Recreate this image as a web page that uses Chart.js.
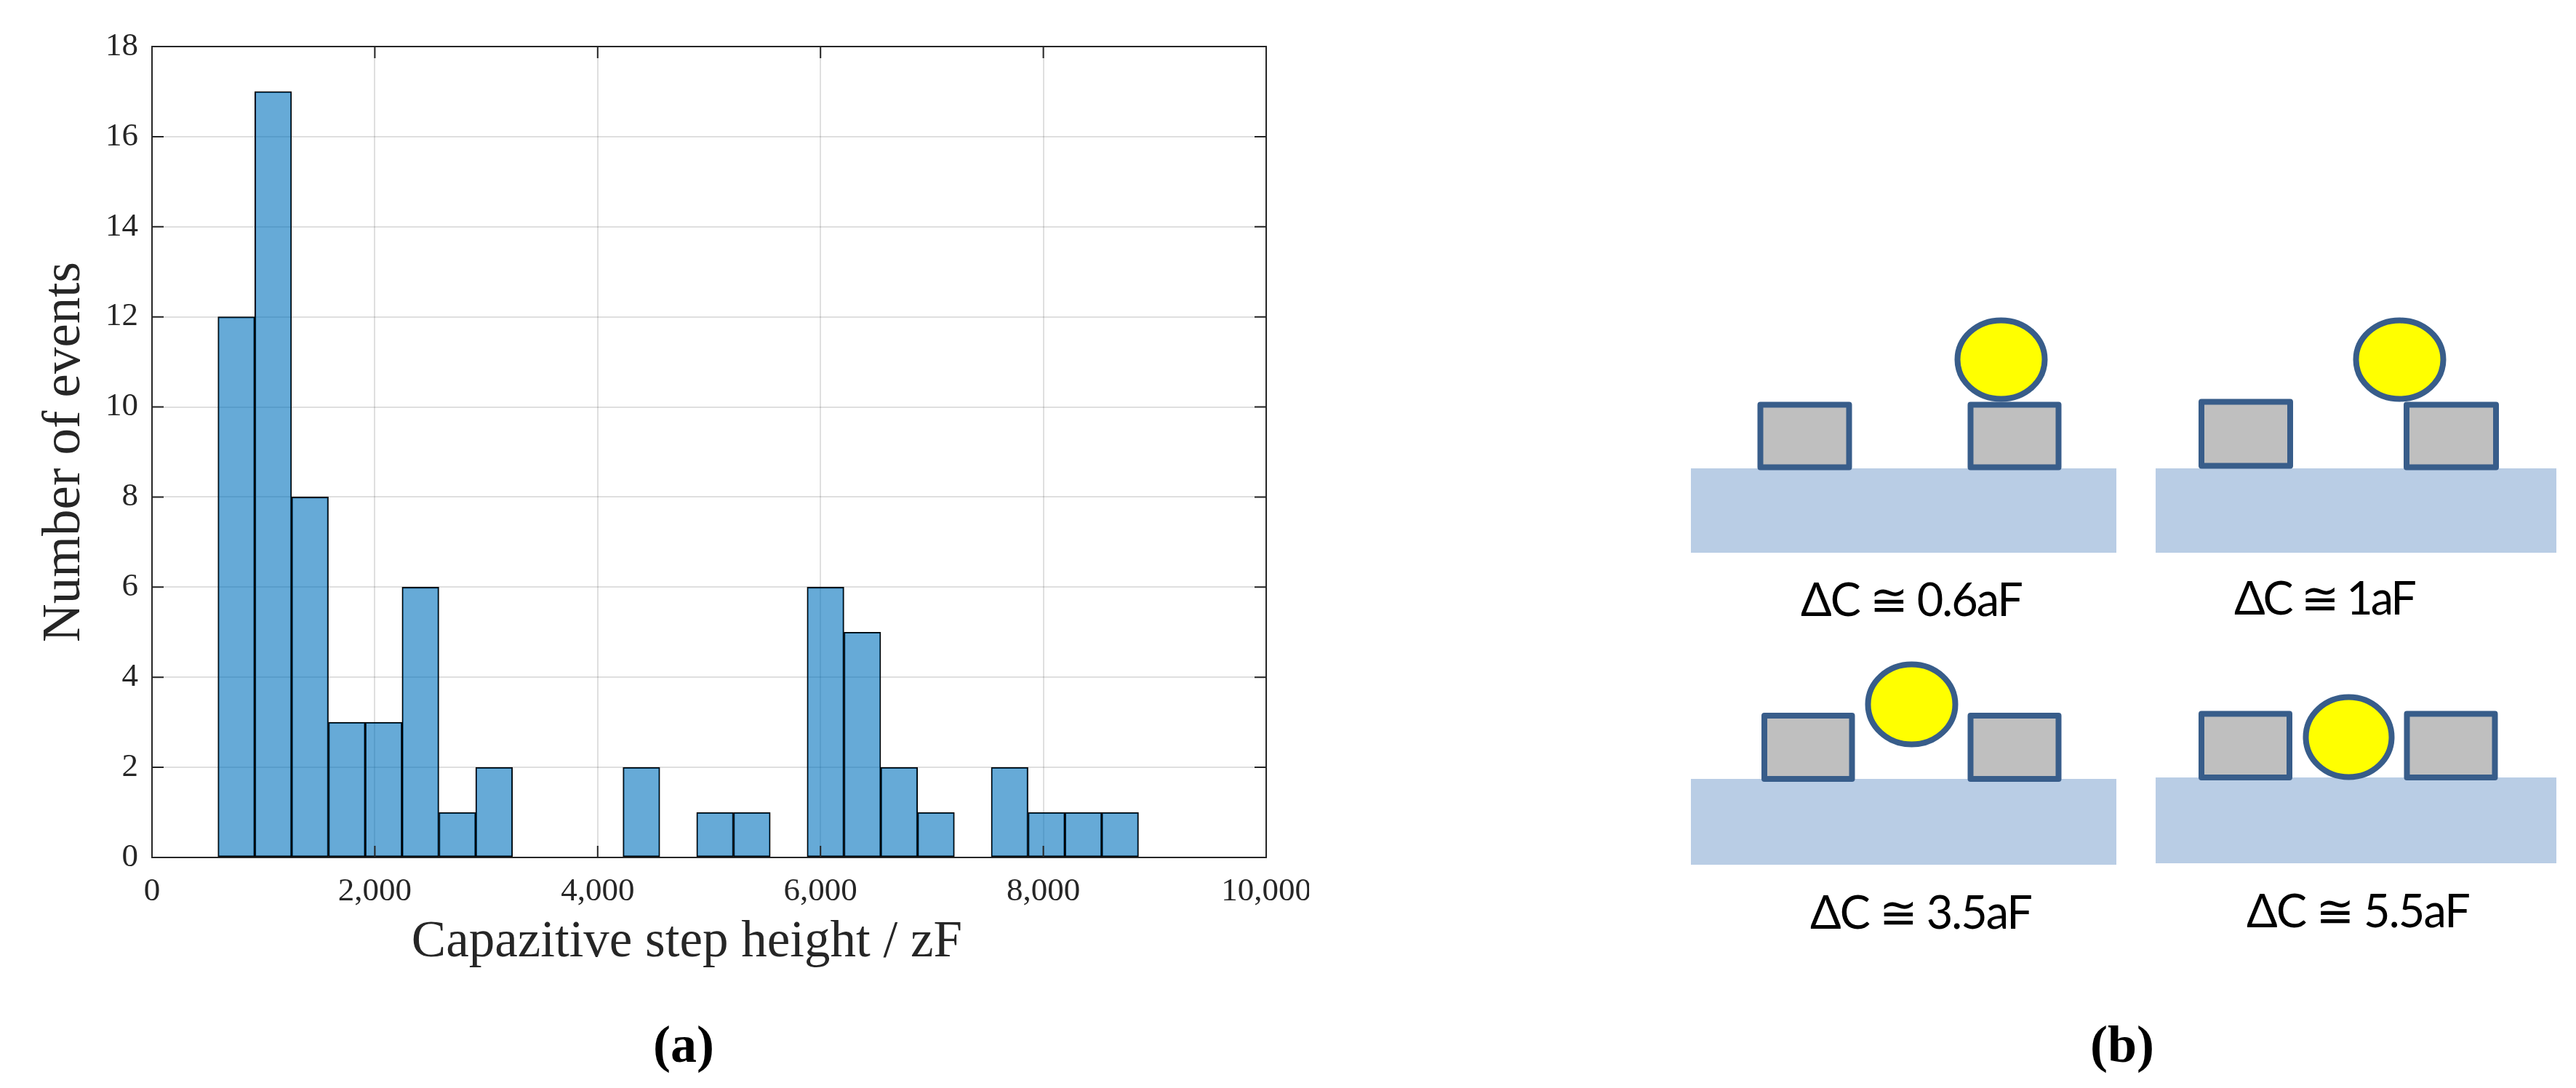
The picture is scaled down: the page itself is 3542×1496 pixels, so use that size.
<!DOCTYPE html>
<html>
<head>
<meta charset="utf-8">
<style>
html, body { margin: 0; padding: 0; background: #fff; }
#wrap { position: relative; width: 3542px; height: 1496px; overflow: hidden; }
#histogram { position: absolute; left: 0; top: 0; }
#sketch { position: absolute; left: 0; top: 0; }
.val { font-family: Lato, "DejaVu Sans", sans-serif; font-size: 63px; fill: #000; }
.cap { font-family: "Liberation Serif", serif; font-size: 72px; font-weight: bold; fill: #000; }
</style>
<script src="https://cdn.jsdelivr.net/npm/chart.js@4"></script>
</head>
<body>
<div id="wrap">
<canvas id="histogram" width="1800" height="1496"></canvas>
<svg id="sketch" width="3542" height="1496" xmlns="http://www.w3.org/2000/svg">
	<g fill="#B9CDE5">
		<rect x="2325" y="644" width="585" height="116"/>
		<rect x="2964" y="644" width="551" height="116"/>
		<rect x="2325" y="1071" width="585" height="118"/>
		<rect x="2964" y="1069" width="551" height="118"/>
	</g>
	<g fill="#BFBFBF" stroke="#385D8A" stroke-width="8" stroke-linejoin="round">
		<rect x="2420.5" y="556.5" width="122" height="86"/>
		<rect x="2709.5" y="556.5" width="121" height="86"/>
		<rect x="3027" y="552.5" width="122" height="88"/>
		<rect x="3309" y="556.5" width="123" height="86"/>
		<rect x="2426" y="984" width="120.5" height="87"/>
		<rect x="2709.5" y="984" width="121" height="87"/>
		<rect x="3027" y="981.5" width="121" height="87.5"/>
		<rect x="3309.5" y="981.5" width="121" height="87.5"/>
	</g>
	<g fill="#FFFF00" stroke="#385D8A" stroke-width="8">
		<ellipse cx="2751.5" cy="494.5" rx="60" ry="54"/>
		<ellipse cx="3299.5" cy="494.5" rx="60" ry="54"/>
		<ellipse cx="2628.5" cy="968.5" rx="60" ry="55"/>
		<ellipse cx="3229.5" cy="1013.5" rx="59" ry="55"/>
	</g>
	<text class="val" x="2476" y="847" textLength="306">ΔC ≅ 0.6aF</text>
	<text class="val" x="3072" y="845" textLength="251">ΔC ≅ 1aF</text>
	<text class="val" x="2489" y="1277" textLength="306">ΔC ≅ 3.5aF</text>
	<text class="val" x="3089" y="1275" textLength="308">ΔC ≅ 5.5aF</text>
	<text class="cap" x="940" y="1460" text-anchor="middle">(a)</text>
	<text class="cap" x="2918" y="1460" text-anchor="middle">(b)</text>
</svg>
</div>
<script>
// bin centres and event counts of the histogram
var binCenters = [757, 1087.5, 1418, 1748.5, 2079, 2409.5, 2740, 3070.5, 3401, 3731.5, 4062, 4392.5, 4723, 5053.5, 5384, 5714.5, 6045, 6375.5, 6706, 7036.5, 7367, 7697.5, 8028, 8358.5, 8689];
var eventCounts = [12, 17, 8, 3, 3, 6, 1, 2, 0, 0, 0, 2, 0, 1, 1, 0, 6, 5, 2, 1, 0, 2, 1, 1, 1];
var xTickValues = [0, 2000, 4000, 6000, 8000, 10000];
var xTickLabels = ["0", "2,000", "4,000", "6,000", "8,000", "10,000"];
var yTickValues = [0, 2, 4, 6, 8, 10, 12, 14, 16, 18];
var xAxisTitle = "Capazitive step height / zF";
var yAxisTitle = "Number of events";

var axisColor = "#262626";
var serif = "'Liberation Serif', serif";

// MATLAB style box: frame on all sides, short ticks pointing inward
var boxPlugin = {
	id: "box",
	afterDraw: function (chart) {
		var ctx = chart.ctx;
		var a = chart.chartArea;
		var len = 16;
		ctx.save();
		ctx.strokeStyle = axisColor;
		ctx.lineWidth = 2;
		ctx.strokeRect(a.left, a.top, a.right - a.left, a.bottom - a.top);
		ctx.beginPath();
		for (var v of xTickValues) {
			var x = chart.scales.x.getPixelForValue(v);
			ctx.moveTo(x, a.bottom);
			ctx.lineTo(x, a.bottom - len);
			ctx.moveTo(x, a.top);
			ctx.lineTo(x, a.top + len);
		}
		for (var w of yTickValues) {
			var y = chart.scales.y.getPixelForValue(w);
			ctx.moveTo(a.left, y);
			ctx.lineTo(a.left + len, y);
			ctx.moveTo(a.right, y);
			ctx.lineTo(a.right - len, y);
		}
		ctx.stroke();
		// the x label sits left of the axis centre, so it can't use the scale title
		ctx.fillStyle = axisColor;
		ctx.font = "71px " + serif;
		ctx.textAlign = "center";
		ctx.textBaseline = "alphabetic";
		ctx.fillText(xAxisTitle, chart.scales.x.getPixelForValue(4800), a.bottom + 136);
		ctx.restore();
	}
};

var ctx = document.getElementById("histogram");
var myChart = new Chart(ctx, {
	type: "bar",
	data: {
		datasets: [{
			label: "Events",
			data: binCenters.map(function (c, i) { return { x: c, y: eventCounts[i] }; }),
			backgroundColor: "rgba(0, 114, 189, 0.6)",
			borderColor: "#000",
			borderWidth: 1.5,
			borderSkipped: false,
			categoryPercentage: 1,
			barPercentage: 1
		}]
	},
	plugins: [boxPlugin],
	options: {
		responsive: false,
		animation: false,
		devicePixelRatio: 1,
		layout: { padding: { left: 46, right: 59, top: 64, bottom: 150 } },
		plugins: { legend: { display: false }, tooltip: { enabled: false } },
		scales: {
			x: {
				type: "linear",
				min: 0,
				max: 10000,
				offset: false,
				afterBuildTicks: function (scale) {
					scale.ticks = xTickValues.map(function (v) { return { value: v }; });
				},
				afterFit: function (scale) {
					scale.height = 167;
					scale.paddingLeft = 0;
					scale.paddingRight = 0;
				},
				grid: { color: "rgba(38, 38, 38, 0.15)", lineWidth: 2, drawTicks: false, offset: false },
				border: { display: false },
				ticks: {
					padding: 20,
					maxRotation: 0,
					autoSkip: false,
					color: axisColor,
					font: { family: serif, size: 45 },
					callback: function (v) { return xTickLabels[xTickValues.indexOf(v)]; }
				}
			},
			y: {
				min: 0,
				max: 18,
				afterBuildTicks: function (scale) {
					scale.ticks = yTickValues.map(function (v) { return { value: v }; });
				},
				afterFit: function (scale) {
					scale.width = 163;
					scale.paddingTop = 0;
					scale.paddingBottom = 0;
				},
				grid: { color: "rgba(38, 38, 38, 0.15)", lineWidth: 2, drawTicks: false },
				border: { display: false },
				ticks: {
					padding: 19,
					color: axisColor,
					font: { family: serif, size: 45 }
				},
				title: {
					display: true,
					text: yAxisTitle,
					color: axisColor,
					font: { family: serif, size: 73 },
					padding: 0
				}
			}
		}
	}
});
</script>
</body>
</html>
